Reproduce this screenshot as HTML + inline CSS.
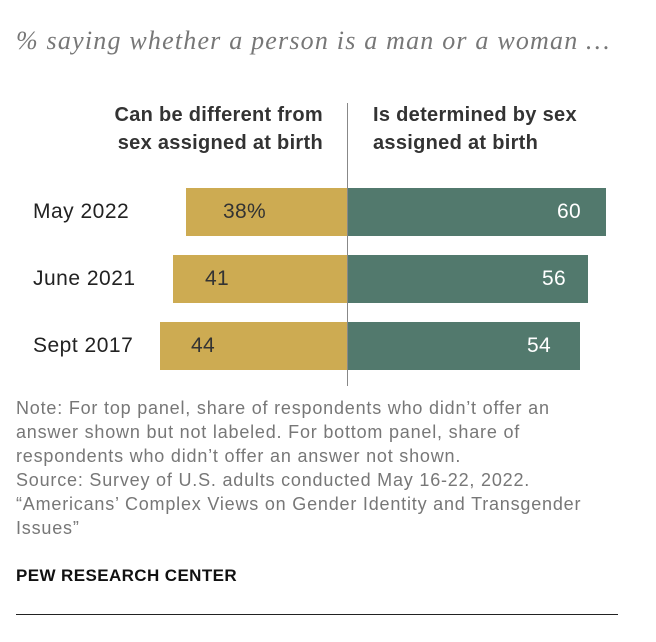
<!DOCTYPE html>
<html><head><style>
body{margin:0;background:#fff;width:656px;height:642px;position:relative;font-family:"Liberation Sans",sans-serif;overflow:hidden}
div{position:absolute}
.t{left:16px;top:26px;font-family:"Liberation Serif",serif;font-style:italic;color:#777;font-size:26px;letter-spacing:1.2px;white-space:nowrap}
.h{font-weight:bold;font-size:20px;letter-spacing:0.3px;color:#333;line-height:28px;white-space:nowrap}
.lab{font-size:21px;letter-spacing:0.5px;color:#222}
.y{background:#cdab52}
.g{background:#52796d}
.n{font-size:21px;letter-spacing:0.3px;line-height:48px}
.note{left:16px;top:396px;font-size:18px;letter-spacing:0.8px;color:#777;line-height:24px;white-space:nowrap}
</style></head><body>
<div class="t">% saying whether a person is a man or a woman …</div>
<div class="h" style="right:333px;top:101px;text-align:right">Can be different from<br>sex assigned at birth</div>
<div class="h" style="left:373px;top:101px">Is determined by sex<br>assigned at birth</div>
<div style="left:347px;top:103px;width:1px;height:283px;background:#888;z-index:2"></div>

<div class="lab" style="left:33px;top:200px">May 2022</div>
<div class="y" style="left:186px;top:188px;width:162px;height:48px"></div>
<div class="g" style="left:348px;top:188px;width:258px;height:48px"></div>
<div class="n" style="left:223px;top:188px;color:#333">38%</div>
<div class="n" style="right:75px;top:188px;color:#fff">60</div>

<div class="lab" style="left:33px;top:267px">June 2021</div>
<div class="y" style="left:173px;top:255px;width:175px;height:48px"></div>
<div class="g" style="left:348px;top:255px;width:240px;height:48px"></div>
<div class="n" style="left:205px;top:255px;color:#333">41</div>
<div class="n" style="right:90px;top:255px;color:#fff">56</div>

<div class="lab" style="left:33px;top:334px">Sept 2017</div>
<div class="y" style="left:160px;top:322px;width:188px;height:48px"></div>
<div class="g" style="left:348px;top:322px;width:232px;height:48px"></div>
<div class="n" style="left:191px;top:322px;color:#333">44</div>
<div class="n" style="right:105px;top:322px;color:#fff">54</div>

<div class="note">Note: For top panel, share of respondents who didn’t offer an<br>answer shown but not labeled. For bottom panel, share of<br>respondents who didn’t offer an answer not shown.<br>Source: Survey of U.S. adults conducted May 16-22, 2022.<br>“Americans’ Complex Views on Gender Identity and Transgender<br>Issues”</div>
<div style="left:16px;top:566px;font-weight:bold;font-size:17px;letter-spacing:0.4px;color:#111">PEW RESEARCH CENTER</div>
<div style="left:16px;top:614px;width:602px;height:1px;background:#222"></div>
</body></html>
